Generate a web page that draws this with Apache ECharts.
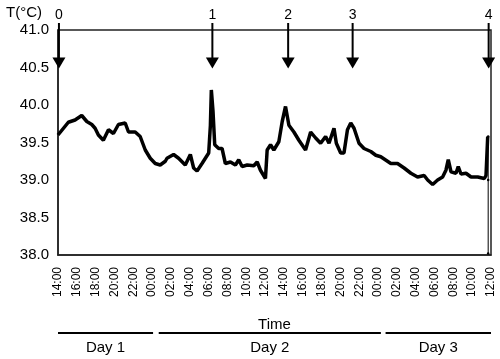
<!DOCTYPE html>
<html>
<head>
<meta charset="utf-8">
<script src="https://cdn.jsdelivr.net/npm/echarts@6/dist/echarts.min.js"></script>
<style>
  html, body { margin: 0; padding: 0; background: #fff; }
  #chart { width: 500px; height: 359px; }
</style>
</head>
<body>
<div id="chart"></div>
<script>
// hours since 14:00 on day 1
const hours = [0, 1.10, 1.81, 2.52, 3.06, 3.59, 3.94, 4.29, 4.82, 5.36, 5.89, 6.42, 7.14, 7.49, 8.20, 8.73,
  9.27, 9.80, 10.33, 10.86, 11.40, 11.58, 12.28, 12.81, 13.52, 14.06, 14.41, 14.77, 15.30, 16.01, 16.19,
  16.29, 16.47, 16.65, 17.07, 17.43, 17.78, 18.32, 18.85, 19.20, 19.56, 20.10, 20.80, 21.16, 21.51, 22.04,
  22.22, 22.58, 22.93, 23.46, 23.82, 24.17, 24.53, 25.06, 25.59, 26.30, 26.84, 27.37, 27.90, 28.43, 28.79,
  29.32, 29.57, 30.03, 30.38, 30.75, 31.10, 31.45, 31.98, 32.51, 33.23, 33.76, 34.29, 35.36, 36.07, 36.77,
  37.49, 38.20, 38.90, 39.27, 39.80, 40.33, 40.86, 41.21, 41.46, 41.75, 42.28, 42.52, 42.81, 43.34, 43.88,
  44.59, 45.29, 45.47, 45.65];
const temps = [39.60, 39.77, 39.80, 39.86, 39.78, 39.74, 39.69, 39.60, 39.53, 39.67, 39.62, 39.74, 39.76, 39.64, 39.64, 39.58,
  39.40, 39.29, 39.22, 39.20, 39.25, 39.29, 39.34, 39.29, 39.20, 39.34, 39.16, 39.12, 39.22, 39.36, 39.73,
  40.20, 39.91, 39.47, 39.42, 39.42, 39.22, 39.24, 39.20, 39.27, 39.18, 39.20, 39.19, 39.24, 39.13, 39.02,
  39.40, 39.47, 39.40, 39.51, 39.78, 39.98, 39.73, 39.64, 39.53, 39.40, 39.64, 39.56, 39.49, 39.58, 39.49,
  39.69, 39.49, 39.36, 39.36, 39.67, 39.76, 39.69, 39.49, 39.42, 39.38, 39.33, 39.31, 39.22, 39.22, 39.16,
  39.09, 39.04, 39.06, 39.00, 38.94, 39.00, 39.04, 39.13, 39.27, 39.11, 39.09, 39.18, 39.08, 39.09, 39.04,
  39.04, 39.02, 39.06, 39.58];
// probe removed at the end
const removalHours = [45.7, 45.7, 45.7];
const removalTemps = [39.58, 39.00, 38.02];

const arrowHours = [0.1, 16.4, 24.45, 31.3, 45.75];
const arrowLabels = ['0', '1', '2', '3', '4'];

const dayNames = ['Day 1', 'Day 2', 'Day 3'];
const dayStart = [0, 10.7, 34.8];
const dayEnd = [10.1, 34.3, 46];

const FONT = '"Liberation Sans", Arial, sans-serif';

function clock(v) {
  const h = (14 + v) % 24;
  return (h < 10 ? '0' : '') + h + ':00';
}

const chart = echarts.init(document.getElementById('chart'), null, { renderer: 'canvas' });

chart.setOption({
  animation: false,
  backgroundColor: '#fff',
  title: {
    text: 'T(°C)', left: 1, top: 0,
    textStyle: { fontFamily: FONT, fontSize: 15, fontWeight: 'normal', color: '#000' }
  },
  grid: {
    left: 58, right: 9, top: 30, bottom: 104,
    show: true, borderColor: '#222', borderWidth: 1.5, backgroundColor: 'transparent'
  },
  xAxis: {
    type: 'value', min: 0, max: 46, interval: 2,
    name: 'Time', nameLocation: 'middle', nameGap: 62,
    nameTextStyle: { fontFamily: FONT, fontSize: 15, color: '#000' },
    axisLine: { lineStyle: { color: '#222', width: 1.5 } },
    axisTick: { show: false },
    splitLine: { show: false },
    axisLabel: {
      rotate: 90, margin: 12, fontFamily: FONT, fontSize: 12, color: '#000',
      formatter: clock
    }
  },
  yAxis: {
    type: 'value', min: 38, max: 41, interval: 0.5,
    axisLine: { show: true, lineStyle: { color: '#222', width: 1.5 } },
    axisTick: { show: false },
    splitLine: { show: false },
    axisLabel: {
      margin: 9, fontFamily: FONT, fontSize: 15, color: '#000',
      formatter: v => v.toFixed(1)
    }
  },
  series: [
    {
      type: 'line',
      data: hours.map((h, i) => [h, temps[i]]),
      showSymbol: false,
      clip: false,
      lineStyle: { color: '#000', width: 3.5 },
      z: 3
    },
    {
      type: 'line',
      data: removalHours.map((h, i) => [h, removalTemps[i]]),
      symbol: 'circle', symbolSize: 2.5,
      itemStyle: { color: '#000' },
      lineStyle: { color: '#000', width: 1 },
      z: 3
    },
    {
      // event arrows above the trace
      type: 'custom',
      data: arrowHours.map((h, i) => [h, 41, i]),
      encode: { x: 0, y: 1 },
      z: 4,
      renderItem: function (params, api) {
        const p = api.coord([api.value(0), 41]);
        const tip = api.coord([api.value(0), 40.5])[1] + 1;
        const x = p[0];
        return {
          type: 'group',
          children: [
            { type: 'line', shape: { x1: x, y1: p[1] - 7, x2: x, y2: tip - 9 },
              style: { stroke: '#000', lineWidth: 2 } },
            { type: 'polygon', shape: { points: [[x - 6.5, tip - 11], [x + 6.5, tip - 11], [x, tip]] },
              style: { fill: '#000' } },
            { type: 'text', x: x, y: p[1] - 15,
              style: { text: arrowLabels[api.value(2)], fontFamily: FONT, fontSize: 14, fill: '#000',
                align: 'center', verticalAlign: 'middle' } }
          ]
        };
      }
    },
    {
      // day brackets under the time labels
      type: 'custom',
      data: dayNames.map((d, i) => [dayStart[i], dayEnd[i], 38, i]),
      encode: { x: [0, 1], y: 2 },
      renderItem: function (params, api) {
        const a = api.coord([api.value(0), 38]);
        const b = api.coord([api.value(1), 38]);
        const y = a[1] + 78;
        return {
          type: 'group',
          children: [
            { type: 'line', shape: { x1: a[0], y1: y, x2: b[0], y2: y },
              style: { stroke: '#000', lineWidth: 2 } },
            { type: 'text', x: (a[0] + b[0]) / 2, y: y + 15,
              style: { text: dayNames[api.value(3)], fontFamily: FONT, fontSize: 15, fill: '#000',
                align: 'center', verticalAlign: 'middle' } }
          ]
        };
      }
    }
  ]
});
</script>
</body>
</html>
